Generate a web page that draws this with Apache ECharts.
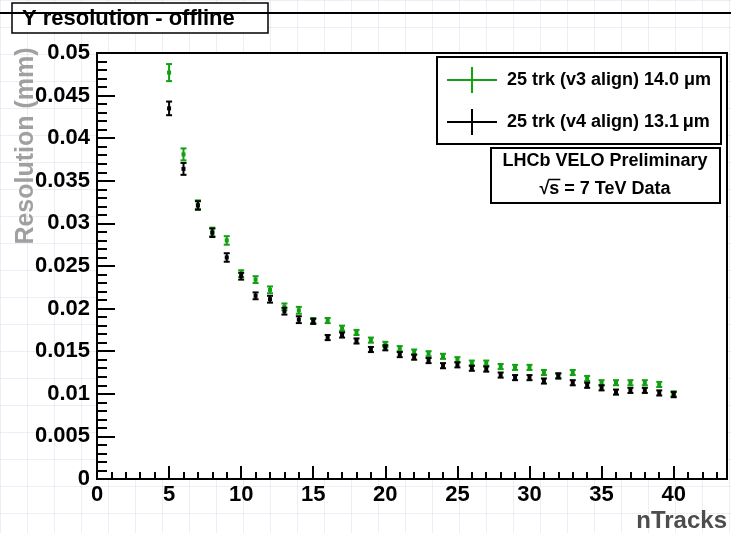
<!DOCTYPE html>
<html>
<head>
<meta charset="utf-8">
<script src="https://cdn.jsdelivr.net/npm/echarts@6/dist/echarts.min.js"></script>
<style>
html,body{margin:0;padding:0;}
body{width:731px;height:533px;overflow:hidden;background-color:#fff;
background-image:linear-gradient(to right, rgba(185,205,222,0.3) 1px, transparent 1px),linear-gradient(to bottom, rgba(185,205,222,0.3) 1px, transparent 1px);
background-size:27px 27px;}
#chart{width:731px;height:533px;}
</style>
</head>
<body>
<div id="chart"></div>
<script>
var nTracks = [5,6,7,8,9,10,11,12,13,14,15,16,17,18,19,20,21,22,23,24,25,26,27,28,29,30,31,32,33,34,35,36,37,38,39,40];
var resV3 = [0.0477,0.0381,0.0322,0.0290,0.0280,0.0241,0.0234,0.0222,0.0202,0.0198,0.0186,0.0186,0.0177,0.0172,0.0163,0.0158,0.0153,0.0149,0.0147,0.0144,0.0140,0.0136,0.0136,0.0132,0.0131,0.0131,0.0125,0.0121,0.0125,0.0118,0.0113,0.0113,0.0113,0.0113,0.0111,0.0100];
var errV3 = [0.0010,0.0007,0.0005,0.0005,0.0005,0.0004,0.0004,0.0004,0.0004,0.0004,0.0003,0.0003,0.0003,0.0003,0.0003,0.0003,0.0003,0.0003,0.0003,0.0003,0.0003,0.0003,0.0003,0.0003,0.0003,0.0003,0.0003,0.0003,0.0003,0.0003,0.0003,0.0003,0.0003,0.0003,0.0003,0.0003];
var resV4 = [0.0435,0.0364,0.0321,0.0289,0.0260,0.0238,0.0215,0.0211,0.0197,0.0187,0.0185,0.0166,0.0169,0.0162,0.0152,0.0154,0.0146,0.0143,0.0139,0.0133,0.0134,0.0130,0.0129,0.0122,0.0119,0.0119,0.0115,0.0121,0.0113,0.0110,0.0107,0.0102,0.0104,0.0104,0.0101,0.0099];
var errV4 = [0.0008,0.0007,0.0005,0.0005,0.0005,0.0004,0.0004,0.0004,0.0004,0.0004,0.0003,0.0003,0.0003,0.0003,0.0003,0.0003,0.0003,0.0003,0.0003,0.0003,0.0003,0.0003,0.0003,0.0003,0.0003,0.0003,0.0003,0.0003,0.0003,0.0003,0.0003,0.0003,0.0003,0.0003,0.0003,0.0003];
var xTicks = [0,5,10,15,20,25,30,35,40];
var yTicks = [0,0.005,0.01,0.015,0.02,0.025,0.03,0.035,0.04,0.045,0.05];
var legendNames = ['25 trk (v3 align) 14.0 \u03bcm','25 trk (v4 align) 13.1\u2009\u03bcm'];
var colV3 = '#10a010', colV4 = '#000000';

function build(vals, errs){
  return nTracks.map(function(n,i){return [n, vals[i], errs[i]];});
}
function errRender(color){
  return function(params, api){
    var x = api.value(0), y = api.value(1), e = api.value(2);
    var lo = api.coord([x, y - e]), hi = api.coord([x, y + e]), c = api.coord([x, y]);
    var st = {stroke: color, lineWidth: 2};
    return {type:'group', children:[
      {type:'line', shape:{x1:lo[0], y1:lo[1], x2:hi[0], y2:hi[1]}, style:st},
      {type:'line', shape:{x1:lo[0]-3, y1:lo[1], x2:lo[0]+3, y2:lo[1]}, style:st},
      {type:'line', shape:{x1:hi[0]-3, y1:hi[1], x2:hi[0]+3, y2:hi[1]}, style:st},
      {type:'rect', shape:{x:c[0]-2, y:c[1]-2, width:4, height:4}, style:{fill:color}}
    ]};
  };
}
var FONT = '"Liberation Sans", Arial, sans-serif';
// overline for sqrt(s)
var sqrtText = '\u221as = 7 TeV Data';
var mctx = document.createElement('canvas').getContext('2d');
mctx.font = 'bold 18px ' + FONT;
var wFull = mctx.measureText(sqrtText).width;
var wRad = mctx.measureText('\u221a').width;
var wS = mctx.measureText('\u221as').width;
var sx0 = 605 - wFull / 2 + wRad - 1, sx1 = 605 - wFull / 2 + wS + 1;

var chart = echarts.init(document.getElementById('chart'), null, {renderer:'canvas'});
var labelStyle = {color:'#000', fontFamily:FONT, fontWeight:'bold', fontSize:22};
chart.setOption({
  backgroundColor:'transparent',
  animation:false,
  grid:{left:97, right:4, top:53, bottom:54, show:true, backgroundColor:'#fff', borderColor:'#000', borderWidth:2},
  xAxis:[{
    type:'value', min:0, max:43.7, interval:5,
    axisLine:{show:true, lineStyle:{color:'#000', width:2}},
    axisTick:{show:true, inside:true, length:13, lineStyle:{color:'#000', width:2}},
    axisLabel:Object.assign({margin:5, showMaxLabel:false, formatter:function(v){return xTicks.indexOf(v)>=0 ? String(v) : '';}}, labelStyle),
    splitLine:{show:false}
  },{
    type:'value', min:0, max:43.7, interval:1, position:'bottom',
    axisLine:{show:false},
    axisTick:{show:true, inside:true, length:7, lineStyle:{color:'#000', width:2}},
    axisLabel:{show:false}, splitLine:{show:false}
  }],
  yAxis:{
    type:'value', min:0, max:0.05, interval:0.005,
    axisLine:{show:true, lineStyle:{color:'#000', width:2}},
    axisTick:{show:true, inside:true, length:18, lineStyle:{color:'#000', width:2}},
    minorTick:{show:true, splitNumber:5, length:10, lineStyle:{color:'#000', width:2}},
    axisLabel:Object.assign({margin:7, formatter:function(v){
      for (var i=0;i<yTicks.length;i++){ if (Math.abs(yTicks[i]-v)<1e-9) return String(yTicks[i]); }
      return '';
    }}, labelStyle),
    splitLine:{show:false}
  },
  series:[
    {type:'custom', name:legendNames[0], renderItem:errRender(colV3), data:build(resV3, errV3), encode:{x:0,y:1}, z:2},
    {type:'custom', name:legendNames[1], renderItem:errRender(colV4), data:build(resV4, errV4), encode:{x:0,y:1}, z:3}
  ],
  graphic:[
    {type:'rect', shape:{x:12, y:3, width:256, height:30}, style:{fill:'#fff', stroke:'#000', lineWidth:1.5}, z:10},
    {type:'line', shape:{x1:0, y1:13, x2:731, y2:13}, style:{stroke:'#000', lineWidth:2}, z:11},
    {type:'text', x:22, y:19, style:{text:'Y resolution - offline', font:'bold 22px '+FONT, fill:'#000', textVerticalAlign:'middle', textAlign:'left'}, z:12},
    {type:'text', x:26, y:146, rotation:Math.PI/2, style:{text:'Resolution (mm)', font:'bold 25px '+FONT, fill:'#a0a0a0', textAlign:'center', textVerticalAlign:'middle'}, z:10},
    {type:'text', x:727, y:521, style:{text:'nTracks', font:'bold 24px '+FONT, fill:'#4d4d4d', textAlign:'right', textVerticalAlign:'middle'}, z:10},
    {type:'rect', shape:{x:437, y:57, width:284, height:87}, style:{fill:'#fff', stroke:'#000', lineWidth:2}, z:10},
    {type:'line', shape:{x1:447, y1:80, x2:497, y2:80}, style:{stroke:colV3, lineWidth:2}, z:11},
    {type:'line', shape:{x1:472, y1:67, x2:472, y2:93}, style:{stroke:colV3, lineWidth:2}, z:11},
    {type:'text', x:507, y:80, style:{text:legendNames[0], font:'bold 18px '+FONT, fill:'#000', textVerticalAlign:'middle'}, z:11},
    {type:'line', shape:{x1:447, y1:122, x2:497, y2:122}, style:{stroke:colV4, lineWidth:2}, z:11},
    {type:'line', shape:{x1:472, y1:109, x2:472, y2:135}, style:{stroke:colV4, lineWidth:2}, z:11},
    {type:'text', x:507, y:122, style:{text:legendNames[1], font:'bold 18px '+FONT, fill:'#000', textVerticalAlign:'middle'}, z:11},
    {type:'rect', shape:{x:491, y:148, width:229, height:55}, style:{fill:'#fff', stroke:'#000', lineWidth:2}, z:10},
    {type:'text', x:605, y:161, style:{text:'LHCb VELO Preliminary', font:'bold 18px '+FONT, fill:'#000', textAlign:'center', textVerticalAlign:'middle'}, z:11},
    {type:'text', x:605, y:189, style:{text:sqrtText, font:'bold 18px '+FONT, fill:'#000', textAlign:'center', textVerticalAlign:'middle'}, z:11},
    {type:'line', shape:{x1:sx0, y1:179.5, x2:sx1, y2:179.5}, style:{stroke:'#000', lineWidth:1.5}, z:11}
  ]
});
</script>
</body>
</html>
